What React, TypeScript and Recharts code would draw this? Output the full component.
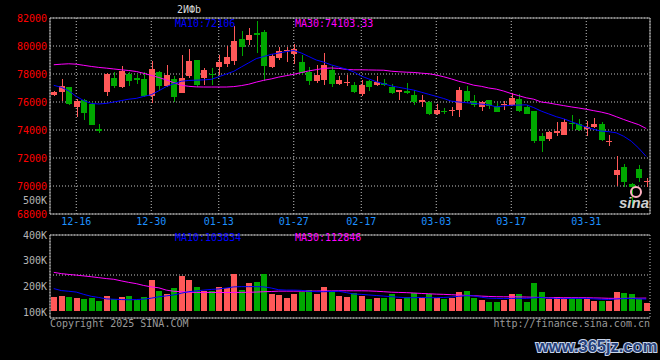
import React from 'react';
import { ComposedChart, Bar, Line, XAxis, YAxis, CartesianGrid } from 'recharts';

const dates = [
  '12-11','12-12','12-13','12-16','12-17','12-18','12-19','12-20','12-23','12-24','12-25','12-26','12-27','12-30','12-31',
  '01-02','01-03','01-06','01-07','01-08','01-09','01-10','01-13','01-14','01-15','01-16','01-17','01-20','01-21','01-22','01-23','01-24','01-27',
  '02-05','02-06','02-07','02-10','02-11','02-12','02-13','02-14','02-17','02-18','02-19','02-20','02-21','02-24','02-25','02-26','02-27','02-28',
  '03-03','03-04','03-05','03-06','03-07','03-10','03-11','03-12','03-13','03-14','03-17','03-18','03-19','03-20','03-21','03-24','03-25','03-26','03-27','03-28','03-31',
  '04-01','04-02','04-03','04-07','04-08','04-09','04-10','04-11',
];
const dateTicks = ['12-16','12-30','01-13','01-27','02-17','03-03','03-17','03-31'];
const priceTicks = [68000, 70000, 72000, 74000, 76000, 78000, 80000, 82000];
const volTicks = [100000, 200000, 300000, 400000];
const volGridTicks = [1, 2, 3, 4];

const opens = [
  76520,76720,77050,75640,76150,75880,74100,76690,77740,77050,
  78000,77740,77670,76450,78120,77120,77620,76670,77880,78980,
  77690,78020,78500,78740,78900,80520,80450,80930,81000,78500,
  79140,79640,79450,78830,78140,77480,77600,78310,77310,77400,
  77240,76600,77480,77240,77360,77050,76710,76810,76520,75980,
  75980,75140,75380,75330,75450,76810,76100,75620,76120,75690,
  75760,75760,76240,75640,75330,73550,73380,73760,73670,74520,
  74430,74100,74240,74450,73140,70810,71380,70140,71240,70260,
];
const highs = [
  76800,77660,77100,76210,76240,76000,74450,78050,78170,78550,
  78170,78000,78170,78900,78240,78670,77830,79380,79760,79030,
  78430,78430,79380,80020,81400,81050,81290,81760,81170,79430,
  79900,79930,80140,79380,78480,78670,79500,78550,77830,77950,
  77430,77550,77600,77880,77640,77290,76880,77360,76880,76520,
  76100,75860,75570,75620,77050,77120,76520,76100,76170,75900,
  76100,76640,76570,75760,75380,73790,73900,74550,74810,75100,
  74790,74670,74860,74570,73670,72120,71600,70200,71520,70570,
];
const lows = [
  76450,76040,75800,74930,74740,74330,73760,76450,77020,77000,
  77120,77260,76380,75950,76790,77050,76000,76620,77710,77100,
  77240,77240,77950,78480,78670,79260,80100,79500,77480,78430,
  79020,78860,78690,77900,77190,77360,77240,77050,77240,77120,
  76640,76400,76810,77120,77120,76600,76170,76570,75760,75620,
  75100,75100,75170,74980,74930,76000,75620,75380,75520,75300,
  75400,75690,75260,75140,73070,72400,73240,73550,73620,74020,
  73900,73550,74140,73240,72830,69980,69900,68500,70260,69900,
];
const closes = [
  76710,77120,75860,76040,75190,74380,73900,78000,77170,78240,
  77480,77600,76450,78380,77120,77900,76380,77740,78900,77190,
  78290,77980,78830,79190,80330,79900,80810,80760,78550,79260,
  79670,79710,79760,78070,77480,77950,78670,77310,77550,77430,
  76710,77240,77070,77430,77190,76620,76830,76620,75980,76170,
  75170,75450,75260,75400,76880,76100,75810,76000,75710,75310,
  75860,76290,75380,75170,73240,73240,73860,73900,74550,74450,
  74000,74240,74450,73310,73240,71170,70260,69900,70570,70330,
];
const ma10 = [
  77190,77050,76800,76400,76100,75900,75860,75900,76000,76100,
  76200,76260,76400,76520,76800,77100,77300,77480,77540,77560,
  77580,77620,77800,78000,78190,78500,78800,79100,79250,79400,
  79500,79600,79680,79500,79250,79000,78850,78650,78500,78350,
  78150,77850,77650,77450,77300,77150,77050,76950,76850,76700,
  76550,76400,76250,76060,76000,75950,75900,75850,75800,75650,
  75720,75770,75780,75800,75600,75350,75150,74950,74800,74600,
  74400,74200,74050,73920,73880,73800,73550,73200,72700,72106,
];
const ma30 = [
  78660,78700,78730,78700,78620,78540,78470,78420,78360,78300,
  78250,78180,78050,77900,77750,77580,77380,77200,77120,77080,
  77070,77070,77070,77070,77100,77170,77270,77420,77550,77650,
  77780,77880,77980,78100,78220,78310,78400,78430,78400,78330,
  78300,78300,78290,78280,78270,78200,78160,78130,78110,78060,
  78020,77930,77800,77650,77480,77350,77200,77120,77000,76920,
  76780,76600,76450,76300,76200,76000,75930,75830,75740,75650,
  75570,75480,75380,75280,75150,74950,74750,74560,74380,74103,
];
const volumes = [
  119000,130000,119000,115000,104000,110000,87000,130000,101000,119000,
  130000,95000,124000,269000,176000,147000,197000,304000,269000,206000,
  176000,176000,206000,197000,321000,182000,240000,249000,318000,147000,
  139000,110000,147000,167000,182000,147000,206000,176000,130000,121000,
  153000,130000,101000,110000,110000,145000,101000,119000,153000,110000,
  145000,110000,101000,110000,162000,171000,110000,93000,81000,75000,
  95000,145000,145000,75000,240000,162000,104000,119000,116000,116000,
  101000,101000,87000,90000,87000,162000,153000,145000,104000,67000,
];
const volMa10 = [
  195000,178000,172000,165000,145000,128000,118000,106000,103000,100000,
  98000,100000,104000,112000,124000,132000,140000,155000,168000,175000,
  182000,188000,192000,200000,210000,212000,212000,212000,210000,200000,
  185000,182000,182000,180000,172000,168000,168000,170000,172000,160000,
  148000,145000,140000,135000,130000,125000,120000,116000,116000,118000,
  116000,116000,118000,122000,128000,133000,132000,120000,112000,110000,
  108000,110000,110000,110000,115000,118000,112000,110000,108000,110000,
  110000,110000,106000,102000,100000,105000,108000,110000,106000,103834,
];
const volMa30 = [
  336000,325000,318000,312000,305000,298000,290000,282000,276000,262000,
  249000,238000,222000,210000,202000,182000,172000,168000,163000,162000,
  162000,162000,161000,161000,162000,162000,163000,165000,168000,170000,
  173000,173000,173000,173000,173000,174000,175000,175000,176000,176000,
  176000,176000,175000,172000,168000,164000,162000,160000,157000,153000,
  150000,147000,145000,142000,139000,136000,133000,130000,127000,125000,
  124000,124000,123000,122000,120000,118000,116000,116000,116000,116000,
  116000,116000,114000,113000,111000,110000,110000,112000,112000,112846,
];

const rows = dates.map((date, i) => ({
  date,
  open: opens[i], high: highs[i], low: lows[i], close: closes[i],
  ma10: ma10[i], ma30: ma30[i],
  vol: volumes[i], vma10: volMa10[i], vma30: volMa30[i],
}));

const RED = '#ff5858';
const GREEN = '#00a800';
const FRAME = '#a8a8a8';
const GRID = '#c4c4c4';
const FONT = 'DejaVu Sans Mono';

const Candle = (props: any) => {
  const { x, y, width, height, payload } = props;
  const { open, close, high, low } = payload;
  const color = close >= open ? RED : GREEN;
  const ratio = high > low ? height / (high - low) : 0;
  const py = (v: number) => y + (high - v) * ratio;
  const bx = Math.round(x);
  const w = Math.round(width);
  const wx = bx + Math.floor(w / 2);
  const yH = Math.round(py(high));
  const yL = Math.round(py(low));
  const yT = Math.round(py(Math.max(open, close)));
  const yB = Math.round(py(Math.min(open, close)));
  return (
    <g>
      <rect x={wx} y={yH} width={1} height={Math.max(1, yL - yH)} fill={color} />
      <rect x={bx} y={yT} width={w} height={Math.max(1, yB - yT)} fill={color} />
    </g>
  );
};

const VolBar = (props: any) => {
  const { x, y, width, height, payload } = props;
  const color = payload.close >= payload.open ? RED : GREEN;
  const bx = Math.round(x);
  const top = Math.round(y);
  const bottom = Math.round(y + height);
  return <rect x={bx} y={top} width={Math.round(width)} height={Math.max(0, bottom - top)} fill={color} />;
};

const fmtK = (v: number) => `${Math.round(v / 1000)}K`;

export default function App() {
  return (
    <div style={{ position: 'absolute', left: 0, top: 0, width: 660, height: 360, background: '#000', overflow: 'hidden' }}>
      <div style={{ position: 'absolute', left: 0, top: 0 }}>
        <ComposedChart width={660} height={232} data={rows} margin={{ top: 17, right: 9, left: 0, bottom: 0 }}>
          <CartesianGrid stroke={GRID} strokeDasharray="1 2" />
          <XAxis dataKey="date" ticks={dateTicks} interval={0} height={18} tickLine={false} tickSize={0} tickMargin={4}
            axisLine={{ stroke: FRAME }} tick={{ fill: '#1e90ff', fontSize: 10, fontFamily: FONT }} />
          <XAxis xAxisId="top" orientation="top" dataKey="date" height={1} tick={false} tickLine={false} axisLine={{ stroke: FRAME }} />
          <YAxis domain={[68000, 82000]} ticks={priceTicks} width={50} interval={0} tickLine={false} tickSize={0} tickMargin={3}
            axisLine={{ stroke: FRAME }} tick={{ fill: '#ff0000', fontSize: 10, fontFamily: FONT }} allowDataOverflow />
          <YAxis yAxisId="right" orientation="right" domain={[0, 1]} width={1} tick={false} tickLine={false} axisLine={{ stroke: FRAME }} />
          <Bar dataKey={(d: any) => [d.low, d.high]} barSize={6} shape={<Candle />} isAnimationActive={false} />
          <Line dataKey="ma30" stroke="#ff00ff" strokeWidth={1} dot={false} type="linear" isAnimationActive={false} />
          <Line dataKey="ma10" stroke="#0000ff" strokeWidth={1} dot={false} type="linear" isAnimationActive={false} />
        </ComposedChart>
      </div>
      <div style={{ position: 'absolute', left: 0, top: 0 }}>
        <ComposedChart width={660} height={360} data={rows} margin={{ top: 234, right: 9, left: 0, bottom: 41 }}>
          <CartesianGrid yAxisId="g" stroke={GRID} strokeDasharray="1 2" />
          <XAxis dataKey="date" ticks={dateTicks} interval={0} height={1} tick={false} tickLine={false} axisLine={{ stroke: FRAME }} />
          <XAxis xAxisId="top" orientation="top" dataKey="date" height={1} tick={false} tickLine={false} axisLine={{ stroke: FRAME }} />
          <YAxis yAxisId="lbl" orientation="left" domain={[76600, 400000]} ticks={volTicks} interval={0} width={50} tickLine={false} tickSize={0} tickMargin={3}
            tickFormatter={fmtK} axisLine={{ stroke: FRAME }} tick={{ fill: '#b4b4b4', fontSize: 10, fontFamily: FONT }} allowDataOverflow />
          <YAxis yAxisId="right" orientation="right" domain={[0, 1]} width={1} tick={false} tickLine={false} axisLine={{ stroke: FRAME }} />
          <YAxis yAxisId="vol" orientation="right" hide domain={[-60000, 660000]} allowDataOverflow />
          <YAxis yAxisId="g" orientation="right" hide domain={[-0.15, 4]} ticks={volGridTicks} allowDataOverflow />
          <Bar yAxisId="vol" dataKey="vol" barSize={6} shape={<VolBar />} isAnimationActive={false} />
          <Line yAxisId="vol" dataKey="vma30" stroke="#ff00ff" strokeWidth={1} dot={false} type="linear" isAnimationActive={false} />
          <Line yAxisId="vol" dataKey="vma10" stroke="#0000ff" strokeWidth={1} dot={false} type="linear" isAnimationActive={false} />
        </ComposedChart>
      </div>
      <svg width={660} height={360} style={{ position: 'absolute', left: 0, top: 0, pointerEvents: 'none' }}>
        <g fontFamily={FONT} fontSize={10}>
          <text x={177} y={13} fill="#d8d8d8">2ИФb</text>
          <text x={175} y={27} fill="#0000ff">MA10:72106</text>
          <text x={295} y={27} fill="#ff00ff">MA30:74103.33</text>
          <text x={175} y={241} fill="#0000ff">MA10:103834</text>
          <text x={295} y={241} fill="#ff00ff">MA30:112846</text>
          <text x={47} y={203.5} fill="#b4b4b4" textAnchor="end">500K</text>
          <text x={50} y={327} fill="#9a9a9a">Copyright 2025 SINA.COM</text>
          <text x={650} y={327} fill="#9a9a9a" textAnchor="end">http://finance.sina.com.cn</text>
        </g>
        <circle cx={636} cy={192} r={5} fill="none" stroke="#ffb0c0" strokeWidth={2} />
        <text x={619} y={208} fill="#d0d0d0" fontFamily="Liberation Sans" fontStyle="italic" fontWeight="bold" fontSize={15}>sina</text>
        <text x={536} y={352} fill="#24407a" stroke="#c8d4ea" strokeWidth={2} paintOrder="stroke"
          fontFamily="Liberation Sans" fontWeight="bold" fontSize={16.5}>www.365jz.com</text>
      </svg>
    </div>
  );
}
